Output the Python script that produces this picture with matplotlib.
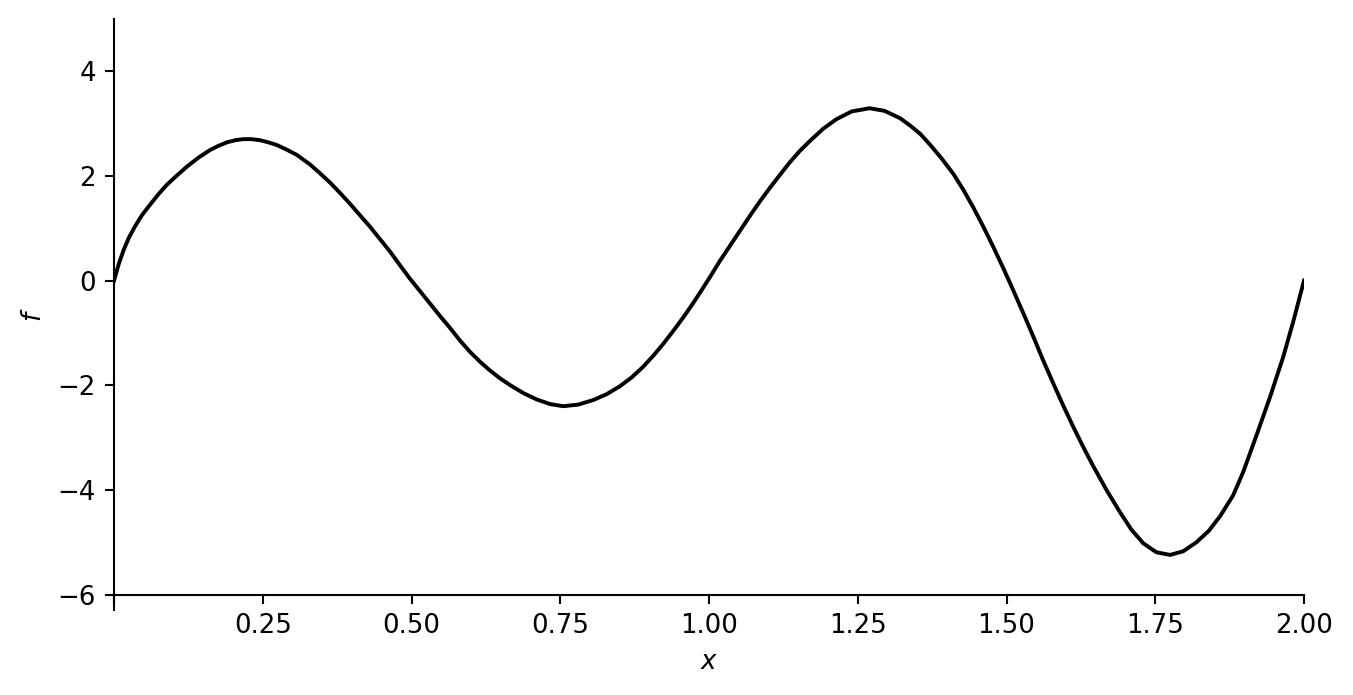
import matplotlib
matplotlib.use("Agg")
import matplotlib.pyplot as plt

# values
x_vals = [0.000, 0.008, 0.016, 0.025, 0.035, 0.047, 0.060, 0.074, 0.088, 0.105,
          0.122, 0.141, 0.161, 0.175, 0.190, 0.204, 0.217, 0.231, 0.245, 0.259,
          0.273, 0.290, 0.307, 0.329, 0.346, 0.363, 0.380, 0.397, 0.413, 0.430,
          0.447, 0.464, 0.480, 0.497, 0.514, 0.531, 0.548, 0.565, 0.581, 0.598,
          0.615, 0.632, 0.649, 0.666, 0.688, 0.710, 0.733, 0.755, 0.780, 0.806,
          0.828, 0.850, 0.870, 0.889, 0.906, 0.923, 0.940, 0.957, 0.974, 0.990,
          1.004, 1.018, 1.035, 1.052, 1.069, 1.086, 1.103, 1.120, 1.136, 1.153,
          1.170, 1.192, 1.214, 1.240, 1.270, 1.295, 1.321, 1.338, 1.355, 1.371,
          1.391, 1.411, 1.427, 1.443, 1.460, 1.477, 1.494, 1.511, 1.528, 1.545,
          1.561, 1.578, 1.595, 1.612, 1.629, 1.646, 1.668, 1.691, 1.710, 1.730,
          1.752, 1.775, 1.797, 1.819, 1.840, 1.859, 1.881, 1.898, 1.920, 1.943,
          1.965, 1.982, 2.000]
f_vals = [0.00, 0.32, 0.58, 0.82, 1.03, 1.25, 1.44, 1.64, 1.82, 2.00,
          2.17, 2.34, 2.49, 2.57, 2.64, 2.68, 2.70, 2.70, 2.68, 2.64,
          2.59, 2.50, 2.40, 2.22, 2.05, 1.87, 1.67, 1.46, 1.25, 1.03,
          0.79, 0.55, 0.30, 0.04, -0.20, -0.44, -0.68, -0.91, -1.14, -1.36,
          -1.55, -1.72, -1.87, -2.00, -2.15, -2.27, -2.36, -2.40, -2.37, -2.28,
          -2.17, -2.02, -1.85, -1.65, -1.44, -1.21, -0.96, -0.70, -0.42, -0.14,
          0.11, 0.37, 0.66, 0.95, 1.24, 1.52, 1.78, 2.03, 2.26, 2.48,
          2.67, 2.90, 3.08, 3.23, 3.29, 3.24, 3.10, 2.96, 2.80, 2.60,
          2.33, 2.03, 1.74, 1.42, 1.05, 0.66, 0.25, -0.18, -0.62, -1.07,
          -1.51, -1.95, -2.38, -2.79, -3.18, -3.55, -4.00, -4.43, -4.76, -5.02,
          -5.19, -5.24, -5.17, -5.00, -4.78, -4.50, -4.10, -3.65, -2.96, -2.22,
          -1.46, -0.78, 0.00]

x_ticks = [0, 0.25, 0.5, 0.75, 1.0, 1.25, 1.5, 1.75, 2.0]
x_ticklabels = ["", "0.25", "0.50", "0.75", "1.00", "1.25", "1.50", "1.75", "2.00"]
y_ticks = [-6, -4, -2, 0, 2, 4]

dpi = 187.5
fig = plt.figure(figsize=(1353 / dpi, 695 / dpi), dpi=dpi)
ax = fig.add_axes([0.0843, 0.1217, 0.8795, 0.8514])

ax.plot(x_vals, f_vals, color="black", linewidth=1.5)

ax.set_xlim(0, 2)
ax.set_ylim(-6.3, 5)
ax.set_xticks(x_ticks)
ax.set_xticklabels(x_ticklabels)
ax.set_yticks(y_ticks)

ax.set_xlabel("$x$")
ax.set_ylabel("$f$")

ax.spines["top"].set_visible(False)
ax.spines["right"].set_visible(False)
ax.spines["bottom"].set_position(("data", -6))

fig.savefig("out.png", dpi=dpi)
